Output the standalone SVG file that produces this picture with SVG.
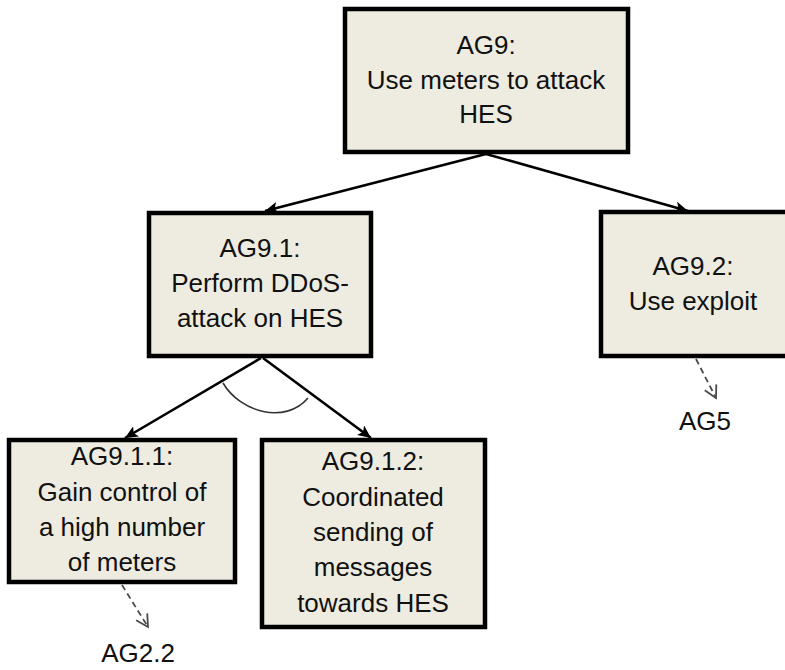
<svg xmlns="http://www.w3.org/2000/svg" width="785" height="670" viewBox="0 0 785 670">
  <defs>
    <marker id="arrow" markerUnits="userSpaceOnUse" markerWidth="14" markerHeight="12" refX="13" refY="6" orient="auto">
      <path d="M0,0 L13,6 L0,12 L3,6 Z" fill="#000"/>
    </marker>
    <marker id="open-arrow" markerUnits="userSpaceOnUse" markerWidth="16" markerHeight="16" refX="13" refY="8" orient="auto">
      <path d="M1,1.5 L13,8 L1,14.5" fill="none" stroke="#4a4a4a" stroke-width="1.8"/>
    </marker>
    <style>
      .box { fill: #EEECE1; stroke: #000; stroke-width: 4.5; }
      .lbl { font-family: "Liberation Sans", Arial, sans-serif; font-size: 26px; fill: #111; text-anchor: middle; }
      .edge { stroke: #000; stroke-width: 2.6; fill: none; marker-end: url(#arrow); }
      .ref { stroke: #4a4a4a; stroke-width: 1.8; stroke-dasharray: 6 4; fill: none; marker-end: url(#open-arrow); }
      .and { stroke: #333; stroke-width: 1.6; fill: none; }
    </style>
  </defs>

  <g id="connectors">
    <path class="edge" d="M486,154 L265,211"/>
    <path class="edge" d="M486,154 L688,211"/>
    <path class="edge" d="M261,358 L125,438"/>
    <path class="edge" d="M263,358 L371,438"/>
    <path class="and" d="M223,383 C240,412 285,425 308,398"/>
    <path class="ref" d="M122,585 L148,627"/>
    <path class="ref" d="M696,359 L716,398"/>
  </g>

  <g id="AG9">
    <rect class="box" x="345" y="9" width="283" height="143"/>
    <text class="lbl" x="486" y="54">AG9:</text>
    <text class="lbl" x="486" y="89">Use meters to attack</text>
    <text class="lbl" x="486" y="123">HES</text>
  </g>

  <g id="AG9.1">
    <rect class="box" x="149" y="213" width="222" height="143"/>
    <text class="lbl" x="260" y="257">AG9.1:</text>
    <text class="lbl" x="260" y="292">Perform DDoS-</text>
    <text class="lbl" x="260" y="327">attack on HES</text>
  </g>

  <g id="AG9.2">
    <rect class="box" x="601" y="212" width="187" height="144"/>
    <text class="lbl" x="693" y="275">AG9.2:</text>
    <text class="lbl" x="693" y="310">Use exploit</text>
  </g>

  <g id="AG9.1.1">
    <rect class="box" x="9" y="440" width="226" height="142"/>
    <text class="lbl" x="122" y="465">AG9.1.1:</text>
    <text class="lbl" x="122" y="501">Gain control of</text>
    <text class="lbl" x="122" y="536">a high number</text>
    <text class="lbl" x="122" y="571">of meters</text>
  </g>

  <g id="AG9.1.2">
    <rect class="box" x="262" y="440" width="223" height="187"/>
    <text class="lbl" x="373" y="470">AG9.1.2:</text>
    <text class="lbl" x="373" y="506">Coordinated</text>
    <text class="lbl" x="373" y="541">sending of</text>
    <text class="lbl" x="373" y="576">messages</text>
    <text class="lbl" x="373" y="612">towards HES</text>
  </g>

  <g id="AG5">
    <text class="lbl" x="705" y="430">AG5</text>
  </g>

  <g id="AG2.2">
    <text class="lbl" x="138" y="662">AG2.2</text>
  </g>
</svg>
